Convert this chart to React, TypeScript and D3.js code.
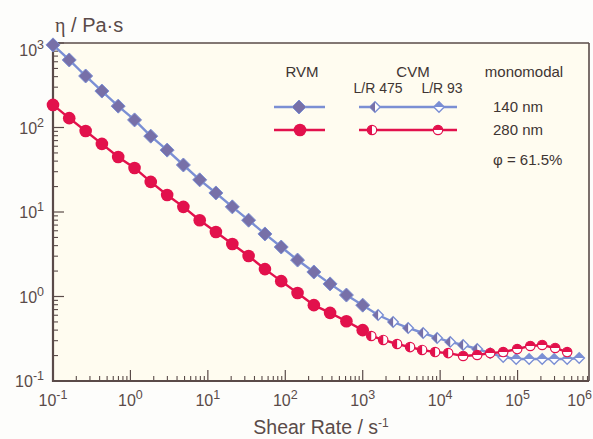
import React from 'react'
import * as d3 from 'd3'

// RVM (rotational viscometer) shear rates, s^-1
const rvmRate = [0.1, 0.162, 0.264, 0.428, 0.695, 1.13, 1.83, 2.98, 4.83, 7.85, 12.7, 20.7, 33.6, 54.6, 88.6, 144, 234, 379, 616, 1000]
const rvm140 = [950, 630, 407, 270, 179, 123, 79, 54, 36, 24, 16.8, 11.5, 8.0, 5.5, 3.85, 2.7, 1.95, 1.41, 1.04, 0.79]
const rvm280 = [185, 129, 91, 64, 44.8, 33.2, 22.7, 15.9, 11.5, 8.0, 5.8, 4.18, 3.01, 2.11, 1.52, 1.1, 0.79, 0.64, 0.51, 0.4]

// CVM, capillary L/R 475
const cvm475Rate140 = [1580, 2470, 3860, 6030, 9140, 13500, 19800, 30100, 44300]
const cvm475Eta140 = [0.604, 0.499, 0.424, 0.37, 0.323, 0.29, 0.267, 0.239, 0.214]
const cvm475Rate280 = [1290, 1840, 2780, 4090, 5850, 8610, 12700]
const cvm475Eta280 = [0.341, 0.306, 0.274, 0.252, 0.233, 0.22, 0.214]

// CVM, capillary L/R 93
const cvm93Rate140 = [65200, 95900, 141000, 208000, 297000, 437000, 625000]
const cvm93Eta140 = [0.192, 0.182, 0.182, 0.182, 0.182, 0.182, 0.187]
const cvm93Rate280 = [19800, 30100, 44300, 65200, 98900, 146000, 208000, 306000, 437000]
const cvm93Eta280 = [0.198, 0.203, 0.214, 0.22, 0.239, 0.26, 0.267, 0.246, 0.22]

const xTicks = [0.1, 1, 10, 100, 1000, 1e4, 1e5, 1e6]
const yTicks = [0.1, 1, 10, 100, 1000]

const W = 593
const H = 439
const left = 53
const right = 589
const top = 43
const bottom = 381

const BLUE_LINE = '#7b8fd4'
const BLUE_FILL = '#7770a8'
const RED = '#e2114c'
const AXIS = '#5a4b49'
const FONT = '"Liberation Sans", Arial, Helvetica, sans-serif'

const zip = (xs: number[], ys: number[]) => xs.map((x, i) => [x, ys[i]] as [number, number])

export default function App() {
  const x = d3.scaleLog().domain([0.1, 1e6]).range([left, 595])
  const y = d3.scaleLog().domain([0.1, 1000]).range([bottom, top])

  const line = d3.line<[number, number]>().x(d => x(d[0])).y(d => y(d[1]))

  const blueAll = [...zip(rvmRate, rvm140), ...zip(cvm475Rate140, cvm475Eta140), ...zip(cvm93Rate140, cvm93Eta140)]
  const redAll = [...zip(rvmRate, rvm280), ...zip(cvm475Rate280, cvm475Eta280), ...zip(cvm93Rate280, cvm93Eta280)]

  // minor ticks 2..9 in each decade
  const minorX: number[] = []
  for (let e = -1; e < 6; e++) for (let m = 2; m < 10; m++) minorX.push(m * Math.pow(10, e))
  const minorY: number[] = []
  for (let e = -1; e < 3; e++) for (let m = 2; m < 10; m++) minorY.push(m * Math.pow(10, e))

  const diamond = (cx: number, cy: number, r: number) => `M${cx},${cy - r}L${cx + r},${cy}L${cx},${cy + r}L${cx - r},${cy}Z`
  const diamondLeft = (cx: number, cy: number, r: number) => `M${cx},${cy - r}L${cx},${cy + r}L${cx - r},${cy}Z`
  const diamondTop = (cx: number, cy: number, r: number) => `M${cx - r},${cy}L${cx},${cy - r}L${cx + r},${cy}Z`
  const circLeft = (cx: number, cy: number, r: number) => `M${cx},${cy - r}A${r},${r} 0 0 0 ${cx},${cy + r}Z`
  const circTop = (cx: number, cy: number, r: number) => `M${cx - r},${cy}A${r},${r} 0 0 1 ${cx + r},${cy}Z`

  const rvmDiamond = (cx: number, cy: number, k: string) => (
    <path key={k} d={diamond(cx, cy, 7)} fill={BLUE_FILL} stroke={BLUE_LINE} strokeWidth={1} />
  )
  const d475 = (cx: number, cy: number, k: string) => (
    <g key={k}>
      <path d={diamond(cx, cy, 5.2)} fill="#fff" stroke={BLUE_LINE} strokeWidth={1.4} />
      <path d={diamondLeft(cx, cy, 5.2)} fill={BLUE_FILL} />
    </g>
  )
  const d93 = (cx: number, cy: number, k: string) => (
    <g key={k}>
      <path d={diamond(cx, cy, 5.2)} fill="#fff" stroke={BLUE_LINE} strokeWidth={1.4} />
      <path d={diamondTop(cx, cy, 5.2)} fill={BLUE_LINE} />
    </g>
  )
  const rvmCircle = (cx: number, cy: number, k: string) => <circle key={k} cx={cx} cy={cy} r={6.3} fill={RED} />
  const c475 = (cx: number, cy: number, k: string) => (
    <g key={k}>
      <circle cx={cx} cy={cy} r={4.7} fill="#fff" stroke={RED} strokeWidth={1.2} />
      <path d={circLeft(cx, cy, 4.7)} fill={RED} />
    </g>
  )
  const c93 = (cx: number, cy: number, k: string) => (
    <g key={k}>
      <circle cx={cx} cy={cy} r={4.7} fill="#fff" stroke={RED} strokeWidth={1.2} />
      <path d={circTop(cx, cy, 4.7)} fill={RED} />
    </g>
  )

  const expLabel = (v: number) => {
    const e = Math.round(Math.log10(v))
    return e < 0 ? '-' + Math.abs(e) : String(e)
  }

  return (
    <svg width={W} height={H} style={{ position: 'absolute', left: 0, top: 0, background: '#fdfdfb' }} fontFamily={FONT}>
      <rect x={left} y={top} width={right - left} height={bottom - top} fill="#fffcf0" />

      {/* frame */}
      <line x1={left} x2={right} y1={top} y2={top} stroke={AXIS} strokeWidth={1.6} />
      <line x1={right} x2={right} y1={top} y2={bottom} stroke={AXIS} strokeWidth={1.6} />

      {/* ticks */}
      {xTicks.filter(t => x(t) <= right).map(t => (
        <line key={'xt' + t} x1={x(t)} x2={x(t)} y1={bottom} y2={bottom - 11} stroke={AXIS} strokeWidth={1.2} />
      ))}
      {minorX.filter(t => x(t) <= right).map(t => (
        <line key={'xm' + t} x1={x(t)} x2={x(t)} y1={bottom} y2={bottom - 5} stroke={AXIS} strokeWidth={1.1} />
      ))}
      {yTicks.map(t => (
        <line key={'yt' + t} x1={left} x2={left + 11} y1={y(t)} y2={y(t)} stroke={AXIS} strokeWidth={1.2} />
      ))}
      {minorY.map(t => (
        <line key={'ym' + t} x1={left} x2={left + 5} y1={y(t)} y2={y(t)} stroke={AXIS} strokeWidth={1.1} />
      ))}
      <line x1={left} x2={left} y1={top} y2={bottom + 1} stroke={AXIS} strokeWidth={2.2} />
      <line x1={left - 1} x2={right} y1={bottom} y2={bottom} stroke={AXIS} strokeWidth={2.2} />

      {/* tick labels */}
      {xTicks.map((t, i) => {
        const last = i === xTicks.length - 1
        return (
          <text key={'xl' + t} x={last ? W - 1 : x(t)} y={406} textAnchor={last ? 'end' : 'middle'} fontSize={16} fill={AXIS}>
            10<tspan dy={-7} fontSize={12.5}>{expLabel(t)}</tspan>
          </text>
        )
      })}
      {yTicks.map(t => (
        <text key={'yl' + t} x={44} y={Math.max(y(t), 50) + 6} textAnchor="end" fontSize={16} fill={AXIS}>
          10<tspan dy={-7} fontSize={12.5}>{expLabel(t)}</tspan>
        </text>
      ))}

      {/* axis titles */}
      <text x={55} y={32} fontSize={20} fill={AXIS}>
        <tspan fontFamily='"Liberation Serif", serif'>η</tspan> / Pa·s
      </text>
      <text x={321} y={434} textAnchor="middle" fontSize={19.5} fill={AXIS}>
        Shear Rate / s<tspan dy={-7} fontSize={12}>-1</tspan>
      </text>

      {/* curves */}
      <path d={line(blueAll) || ''} fill="none" stroke={BLUE_LINE} strokeWidth={2.4} />
      {zip(rvmRate, rvm140).map((d, i) => rvmDiamond(x(d[0]), y(d[1]), 'b' + i))}
      {zip(cvm475Rate140, cvm475Eta140).map((d, i) => d475(x(d[0]), y(d[1]), 'bc' + i))}
      {zip(cvm93Rate140, cvm93Eta140).map((d, i) => d93(x(d[0]), y(d[1]), 'bd' + i))}

      <path d={line(redAll) || ''} fill="none" stroke={RED} strokeWidth={2.4} />
      {zip(rvmRate, rvm280).map((d, i) => rvmCircle(x(d[0]), y(d[1]), 'r' + i))}
      {zip(cvm475Rate280, cvm475Eta280).map((d, i) => c475(x(d[0]), y(d[1]), 'rc' + i))}
      {zip(cvm93Rate280, cvm93Eta280).map((d, i) => c93(x(d[0]), y(d[1]), 'rd' + i))}

      {/* legend */}
      <g fill="#3e3533" fontSize={15}>
        <text x={302} y={77} textAnchor="middle">RVM</text>
        <text x={413} y={77} textAnchor="middle">CVM</text>
        <text x={524} y={77} textAnchor="middle">monomodal</text>
        <text x={378} y={93} textAnchor="middle" fontSize={14}>L/R 475</text>
        <text x={442} y={93} textAnchor="middle" fontSize={14}>L/R 93</text>
        <text x={493} y={112}>140 nm</text>
        <text x={493} y={135}>280 nm</text>
        <text x={493} y={165}>φ = 61.5%</text>
      </g>
      <line x1={274} x2={325} y1={107} y2={107} stroke={BLUE_LINE} strokeWidth={2.4} />
      {rvmDiamond(299, 107, 'lg1')}
      <line x1={359} x2={457} y1={107} y2={107} stroke={BLUE_LINE} strokeWidth={2.4} />
      {d475(375, 107, 'lg2')}
      {d93(439, 107, 'lg3')}
      <line x1={274} x2={325} y1={130} y2={130} stroke={RED} strokeWidth={2.4} />
      {rvmCircle(300, 130, 'lg4')}
      <line x1={359} x2={457} y1={130} y2={130} stroke={RED} strokeWidth={2.4} />
      {c475(372, 130, 'lg5')}
      {c93(438, 130, 'lg6')}
    </svg>
  )
}
